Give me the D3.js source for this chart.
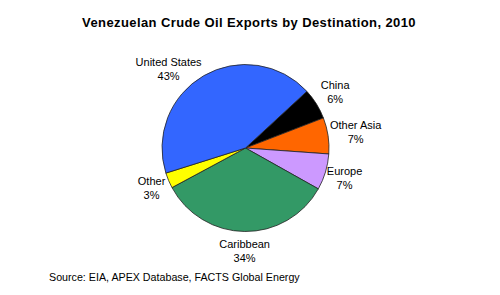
<!DOCTYPE html>
<html>
<head>
<meta charset="utf-8">
<script src="https://cdn.jsdelivr.net/npm/d3@7"></script>
<style>
html,body{margin:0;padding:0;background:#fff;}
svg{display:block;}
text{font-family:"Liberation Sans",Arial,sans-serif;fill:#000;}
</style>
</head>
<body>
<svg id="chart" width="500" height="295"></svg>
<script>
// Data
const categories = ["China", "Other Asia", "Europe", "Caribbean", "Other", "United States"];
const shares = [6, 7, 7, 34, 3, 43];
const colors = ["#000000", "#FF6600", "#CC99FF", "#339966", "#FFFF00", "#3366FF"];
const title = "Venezuelan Crude Oil Exports by Destination, 2010";
const source = "Source: EIA, APEX Database, FACTS Global Energy";

// Layout (not data)
const cx = 245.5, cy = 148, R = 83.5;
const startDeg = 47.3;
const labelRadius = [105.6, 111.4, 103.4, 103, 102, 110.5];
const labelAngleNudge = [0, 0, 0, 0, 0, -14];

const svg = d3.select("#chart");
const toRad = d => d * Math.PI / 180;

svg.append("text")
  .attr("x", 249).attr("y", 27)
  .attr("text-anchor", "middle")
  .style("font-weight", "bold").style("font-size", "13px")
  .style("letter-spacing", "0.4px")
  .text(title);

const pie = d3.pie().sort(null).value(d => d)
  .startAngle(toRad(startDeg)).endAngle(toRad(startDeg + 360));
const arcs = pie(shares);
const arc = d3.arc().innerRadius(0).outerRadius(R);

const g = svg.append("g").attr("transform", `translate(${cx},${cy})`);
g.selectAll("path").data(arcs).join("path")
  .attr("d", arc)
  .attr("fill", (d, i) => colors[i])
  .attr("stroke", "#222").attr("stroke-width", 0.8).attr("stroke-linejoin", "round");

const lab = g.selectAll("g.lab").data(arcs).join("g").attr("class", "lab")
  .attr("transform", (d, i) => {
    const a = (d.startAngle + d.endAngle) / 2 + toRad(labelAngleNudge[i]);
    const r = labelRadius[i];
    return `translate(${Math.sin(a) * r},${-Math.cos(a) * r})`;
  });
lab.append("text").attr("text-anchor", "middle").attr("y", -3)
  .style("font-size", "11px").text((d, i) => categories[i]);
lab.append("text").attr("text-anchor", "middle").attr("y", 11)
  .style("font-size", "11px").text((d, i) => Math.round(shares[i] / d3.sum(shares) * 100) + "%");

svg.append("text")
  .attr("x", 49).attr("y", 281)
  .style("font-size", "10.7px")
  .text(source);
</script>
</body>
</html>
